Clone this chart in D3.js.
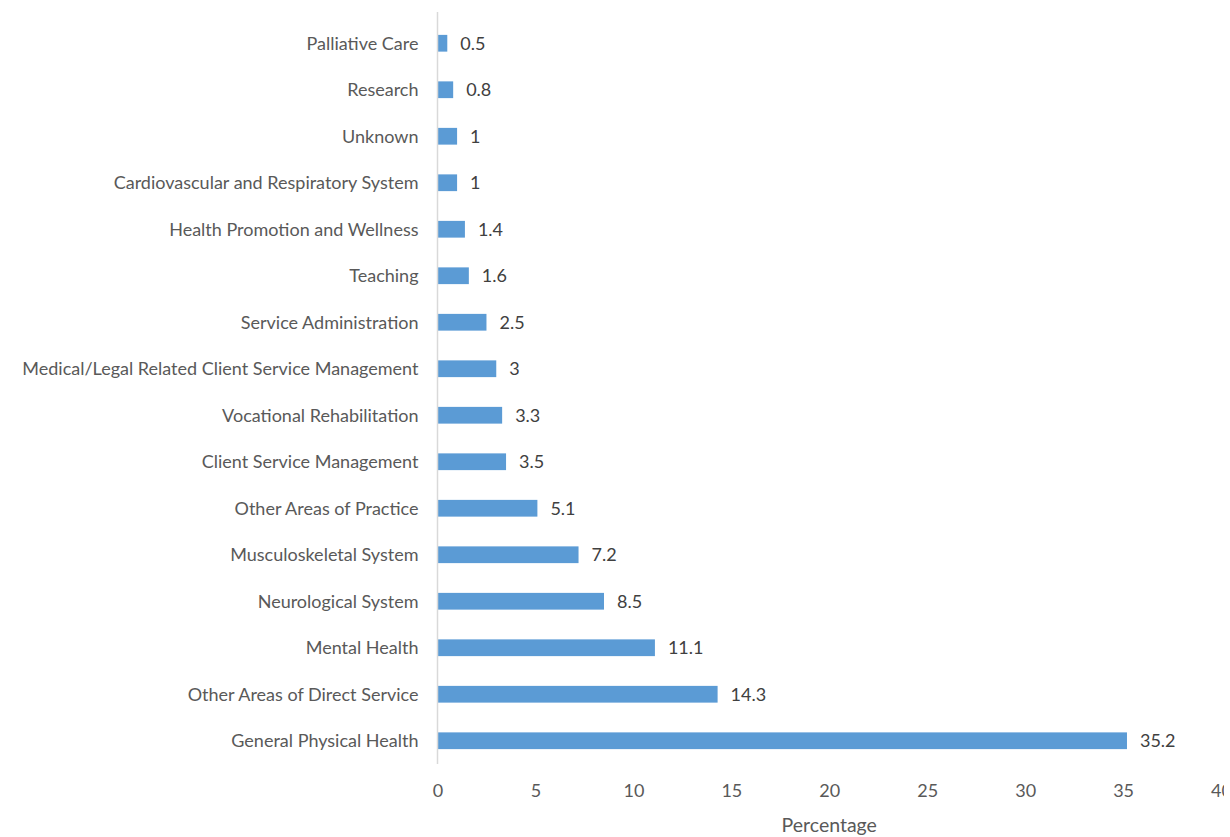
<!DOCTYPE html>
<html>
<head>
<meta charset="utf-8">
<script src="https://cdn.jsdelivr.net/npm/d3@7"></script>
<style>
  body { margin: 0; background: #fff; }
  text { font-family: Lato, "Open Sans", sans-serif; }
</style>
</head>
<body>
<div id="chart"></div>
<script>
// data, top to bottom as drawn
const categories = [
  "Palliative Care",
  "Research",
  "Unknown",
  "Cardiovascular and Respiratory System",
  "Health Promotion and Wellness",
  "Teaching",
  "Service Administration",
  "Medical/Legal Related Client Service Management",
  "Vocational Rehabilitation",
  "Client Service Management",
  "Other Areas of Practice",
  "Musculoskeletal System",
  "Neurological System",
  "Mental Health",
  "Other Areas of Direct Service",
  "General Physical Health"
]
const values = [0.5, 0.8, 1, 1, 1.4, 1.6, 2.5, 3, 3.3, 3.5, 5.1, 7.2, 8.5, 11.1, 14.3, 35.2]
const xTicks = [0, 5, 10, 15, 20, 25, 30, 35, 40]
const xTitle = "Percentage"

// the source picture is cut off just past the "4" of the last tick
const W = 1224, H = 837
const plotLeft = 437.5, plotRight = 1221, plotTop = 20, plotBottom = 764

const svg = d3.select("#chart").append("svg")
  .attr("width", W)
  .attr("height", H)

const x = d3.scaleLinear().domain([0, 40]).range([plotLeft, plotRight])
const y = d3.scaleBand().domain(categories).range([plotTop, plotBottom]).paddingInner(0.64).paddingOuter(0.32)

// bars
svg.append("g").selectAll("rect")
  .data(values)
  .enter().append("rect")
  .attr("x", x(0))
  .attr("y", (d, i) => y(categories[i]))
  .attr("width", d => x(d) - x(0))
  .attr("height", y.bandwidth())
  .attr("fill", "#5b9bd5")

// vertical axis line
svg.append("line")
  .attr("x1", plotLeft).attr("x2", plotLeft)
  .attr("y1", 12).attr("y2", plotBottom)
  .attr("stroke", "#d9d9d9")
  .attr("stroke-width", 1.5)

// category labels
svg.append("g").selectAll("text")
  .data(categories)
  .enter().append("text")
  .attr("x", plotLeft - 19)
  .attr("y", d => y(d) + y.bandwidth() / 2)
  .attr("dy", "0.35em")
  .attr("text-anchor", "end")
  .attr("fill", "#595959")
  .style("font-size", "18px")
  .text(d => d)

// value labels
svg.append("g").selectAll("text")
  .data(values)
  .enter().append("text")
  .attr("x", d => x(d) + 13)
  .attr("y", (d, i) => y(categories[i]) + y.bandwidth() / 2)
  .attr("dy", "0.35em")
  .attr("fill", "#404040")
  .style("font-size", "18px")
  .text(d => d)

// x tick labels
const xAxis = svg.append("g")
  .attr("transform", "translate(0," + (plotBottom + 20) + ")")
  .call(d3.axisBottom(x).tickValues(xTicks).tickSize(0).tickPadding(0))
xAxis.select(".domain").remove()
xAxis.selectAll("text")
  .attr("fill", "#595959")
  .style("font-size", "18px")
  .style("font-family", "Lato, 'Open Sans', sans-serif")

// axis title
svg.append("text")
  .attr("x", (plotLeft + plotRight) / 2)
  .attr("y", 832)
  .attr("text-anchor", "middle")
  .attr("fill", "#595959")
  .style("font-size", "19.5px")
  .text(xTitle)
</script>
</body>
</html>
